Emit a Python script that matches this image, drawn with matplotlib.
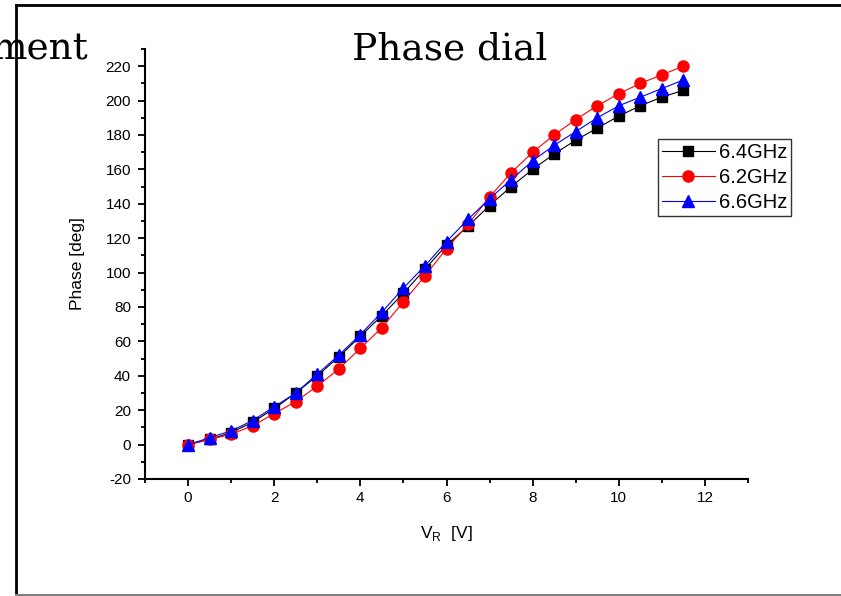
import numpy as np
import matplotlib
matplotlib.use('Agg')
import matplotlib.pyplot as plt
from matplotlib.ticker import MultipleLocator
from matplotlib.lines import Line2D

plt.rcParams['font.family'] = ['Liberation Sans', 'DejaVu Sans']
plt.rcParams['mathtext.fontset'] = 'custom'
plt.rcParams['mathtext.rm'] = 'Liberation Sans'
plt.rcParams['axes.unicode_minus'] = False

# bias voltage (V) and measured phase (deg)
v_r = [0, 0.5, 1, 1.5, 2, 2.5, 3, 3.5, 4, 4.5, 5, 5.5,
       6, 6.5, 7, 7.5, 8, 8.5, 9, 9.5, 10, 10.5, 11, 11.5]
phase_64 = [0, 3, 7, 13, 21, 30, 40, 51, 63, 75, 88, 102,
            116, 127, 139, 150, 160, 169, 177, 184, 191, 197, 202, 206]
phase_62 = [0, 3, 6, 11, 18, 25, 34, 44, 56, 68, 83, 98,
            114, 128, 144, 158, 170, 180, 189, 197, 204, 210, 215, 220]
phase_66 = [0, 4, 8, 14, 22, 30, 41, 52, 64, 77, 91, 104,
            118, 131, 143, 154, 165, 174, 182, 190, 197, 202, 207, 212]

fig = plt.figure(figsize=(8.41, 5.96), dpi=100)

# slide frame around the chart (screenshot edges)
fig.add_artist(Line2D([16/841, 16/841], [0, 1 - 5/596], color='black', lw=2))
fig.add_artist(Line2D([16/841, 1], [1 - 5/596, 1 - 5/596], color='black', lw=2))
fig.add_artist(Line2D([16/841, 1], [1/596, 1/596], color='gray', lw=1.5))
fig.text(88/841, 1 - 60/596, 'ment', family='DejaVu Serif', fontsize=27,
         ha='right', va='baseline')

ax = fig.add_axes([145/841, 1 - 479/596, 603/841, 430/596])

ax.plot(v_r, phase_64, color='black', marker='s', ms=7, lw=0.8, label='6.4GHz')
ax.plot(v_r, phase_62, color='red', marker='o', ms=8, lw=0.8, label='6.2GHz')
ax.plot(v_r, phase_66, color='blue', marker='^', ms=8.5, lw=0.8, label='6.6GHz')

ax.set_xlim(-1, 13)
ax.set_ylim(-20, 230)
ax.xaxis.set_major_locator(MultipleLocator(2))
ax.xaxis.set_minor_locator(MultipleLocator(1))
ax.yaxis.set_major_locator(MultipleLocator(20))
ax.yaxis.set_minor_locator(MultipleLocator(10))
ax.spines['top'].set_visible(False)
ax.spines['right'].set_visible(False)
for s in ['left', 'bottom']:
    ax.spines[s].set_linewidth(1.5)
ax.tick_params(which='major', direction='out', length=5, width=1.3, labelsize=11)
ax.tick_params(axis='y', which='major', pad=5)
ax.tick_params(which='minor', direction='out', length=3, width=1.3)

ax.set_xlabel(r'V$_\mathrm{R}$  [V]', fontsize=12.5, labelpad=14)
ax.set_ylabel('Phase [deg]', fontsize=12.5, labelpad=15)

fig.text(450/841, 1 - 60/596, 'Phase dial', family='DejaVu Serif', fontsize=27,
         ha='center', va='baseline')

leg = ax.legend(loc='upper left', bbox_to_anchor=(0.851, 0.79), fontsize=14.5,
                frameon=True, fancybox=False, edgecolor='black',
                handlelength=2.6, borderpad=0.2, labelspacing=0.3,
                handletextpad=0.2, borderaxespad=0)
leg.get_frame().set_linewidth(1.0)

fig.savefig('out.png', dpi=100)
